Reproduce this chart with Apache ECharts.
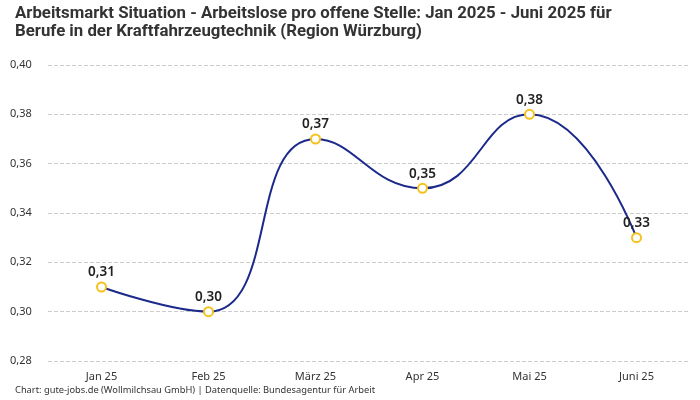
<!DOCTYPE html>
<html><head><meta charset="utf-8">
<script src="https://cdn.jsdelivr.net/npm/echarts@6/dist/echarts.min.js"></script>
<style>html,body{margin:0;padding:0;background:#fff}#c{width:700px;height:400px}</style>
</head><body><div id="c"></div>
<script>
const categories = ['Jan 25','Feb 25','März 25','Apr 25','Mai 25','Juni 25'];
const values = [0.31, 0.30, 0.37, 0.35, 0.38, 0.33];
const titleText = 'Arbeitsmarkt Situation - Arbeitslose pro offene Stelle: Jan 2025 - Juni 2025 für\nBerufe in der Kraftfahrzeugtechnik (Region Würzburg)';
const footerText = 'Chart: gute-jobs.de (Wollmilchsau GmbH) | Datenquelle: Bundesagentur für Arbeit';
const fmt = v => v.toFixed(2).replace('.', ',');
const chart = echarts.init(document.getElementById('c'));
chart.setOption({
  animation:false,
  title:[{text:titleText,left:10,top:0,textStyle:{fontFamily:'Roboto',fontWeight:'bold',fontSize:16.8,color:'#333',lineHeight:18}},
         {text:footerText,left:10,bottom:0,textStyle:{fontFamily:'Noto Sans',fontWeight:'normal',fontSize:9.3,color:'#333'}}],
  grid:{left:48,right:10,top:65,bottom:39},
  xAxis:{type:'category',data:categories,boundaryGap:true,axisLine:{show:false},axisTick:{show:false},
    axisLabel:{fontFamily:'Noto Sans',fontSize:11,color:'#333',margin:10}},
  yAxis:{type:'value',min:0.28,max:0.40,interval:0.02,
    axisLabel:{formatter:v=>fmt(v),fontFamily:'Noto Sans',fontSize:11,color:'#333',align:'left',margin:38},
    splitLine:{lineStyle:{type:'dashed',color:'#cccccc'}}},
  series:[{type:'line',data:values,smooth:true,symbol:'circle',symbolSize:9,
    lineStyle:{color:'#1b2a8a',width:2},
    itemStyle:{color:'#ffffff',borderColor:'#f5c21b',borderWidth:2},
    label:{show:true,position:'top',formatter:p=>fmt(p.value),fontFamily:'Noto Sans',fontWeight:600,fontSize:13.5,color:'#222',distance:2}}]
});
</script></body></html>
